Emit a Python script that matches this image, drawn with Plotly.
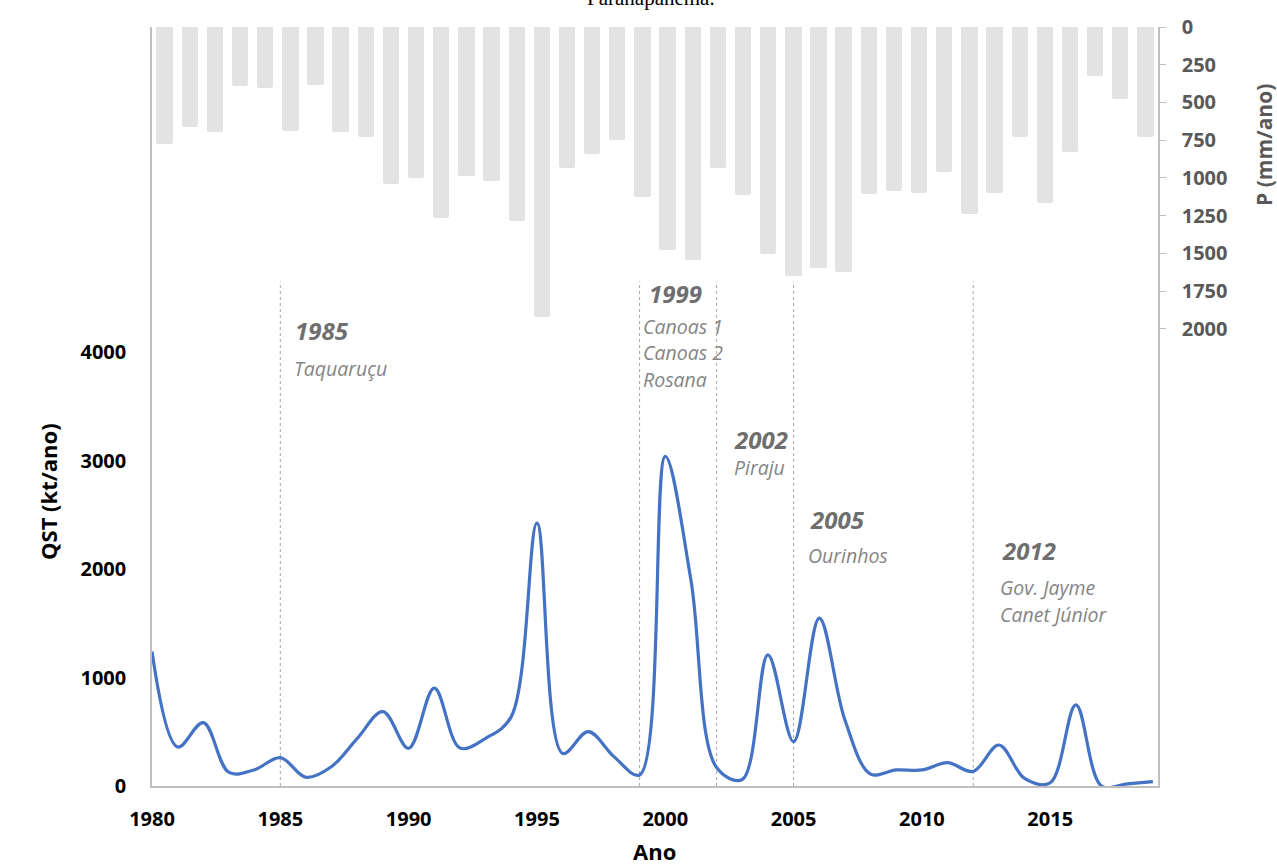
import plotly.graph_objects as go

# Annual series, 1980-2019
years = list(range(1980, 2020))

# Suspended sediment transport (kt/ano)
qst = [1240, 360, 585, 125, 150, 262, 80, 180, 440, 686,
       348, 902, 350, 440, 640, 2425, 300, 501, 271, 102,
       3040, 1900, 170, 60, 1210, 409, 1548, 609, 110, 148,
       148, 215, 135, 378, 70, 30, 748, 0, 20, 40]

# Annual precipitation (mm/ano)
precip = [775, 665, 698, 391, 404, 691, 382, 694, 727, 1038,
          1001, 1266, 985, 1023, 1286, 1922, 937, 844, 751, 1125,
          1478, 1544, 937, 1113, 1504, 1650, 1599, 1622, 1107, 1087,
          1098, 963, 1239, 1098, 731, 1164, 826, 325, 477, 731]

# Dam commissioning events
event_years = [1985, 1999, 2002, 2005, 2012]
event_names = [["Taquaruçu"], ["Canoas 1", "Canoas 2", "Rosana"], ["Piraju"],
               ["Ourinhos"], ["Gov. Jayme", "Canet Júnior"]]

x_ticks = [1980, 1985, 1990, 1995, 2000, 2005, 2010, 2015]
qst_ticks = [0, 1000, 2000, 3000, 4000]
p_ticks = [0, 250, 500, 750, 1000, 1250, 1500, 1750, 2000]

FONT = "Open Sans"
AXIS_GREY = "#bfbfbf"

# Frame geometry (pixels)
L, R, T, B = 152, 119, 27, 79
W, H = 1277, 865
pw, ph = W - L - R, H - T - B


def px(xp):
    return (xp - L) / pw


def py(yp):
    return (H - B - yp) / ph


fig = go.Figure()

fig.add_trace(go.Bar(
    x=years, y=precip, xaxis="x2", yaxis="y2",
    width=0.65, marker=dict(color="#e3e3e3", line=dict(width=0), cornerradius=3),
    showlegend=False,
))

fig.add_trace(go.Scatter(
    x=years, y=qst, mode="lines",
    line=dict(color="#4472C4", width=3.2, shape="spline", smoothing=1.0),
    showlegend=False,
))

# Vertical dashed markers for each event
for yr in event_years:
    fig.add_shape(type="line", xref="x", yref="paper", x0=yr, x1=yr, y0=0, y1=0.665,
                  line=dict(color="#a6a6a6", width=1, dash="3px,3px"), layer="below")

# Event label placement: year label centre (x, y) and names left edge / first line y
label_layout = {
    1985: dict(yx=1986.62, yy=4200, nx=1985.46, ny=3850),
    1999: dict(yx=2000.38, yy=4540, nx=1999.06, ny=4240),
    2002: dict(yx=2003.73, yy=3200, nx=2002.6, ny=2940),
    2005: dict(yx=2006.7, yy=2460, nx=2005.49, ny=2130),
    2012: dict(yx=2014.18, yy=2170, nx=2012.97, ny=1830),
}
for yr, names in zip(event_years, event_names):
    p = label_layout[yr]
    fig.add_annotation(x=p["yx"], y=p["yy"], xref="x", yref="y", text=f"<b><i>{yr}</i></b>",
                       showarrow=False, xanchor="center", yanchor="middle",
                       font=dict(family=FONT, size=24, color="#6e6e6e"))
    for k, name in enumerate(names):
        fig.add_annotation(x=p["nx"], y=p["ny"] - k * 245, xref="x", yref="y",
                           text=f"<i>{name}</i>", showarrow=False,
                           xanchor="left", yanchor="middle",
                           font=dict(family=FONT, size=19.5, color="#858585"))

# Axis titles and caption
common = dict(showarrow=False, xref="paper", yref="paper", xanchor="center", yanchor="middle")
fig.add_annotation(text="<b>QST (kt/ano)</b>", x=px(48), y=py(492), textangle=-90,
                   font=dict(family=FONT, size=22, color="black"), **common)
fig.add_annotation(text="<b>Ano</b>", x=px(654), y=py(851),
                   font=dict(family=FONT, size=22, color="black"), **common)
fig.add_annotation(text="<b>P (mm/ano)</b>", x=px(1264), y=py(145), textangle=-90,
                   font=dict(family=FONT, size=21, color="#595959"), **common)
fig.add_annotation(text="Paranapanema.", x=px(651), y=py(-2),
                   font=dict(family="Liberation Serif", size=21, color="black"), **common)

fig.update_layout(
    width=W, height=H,
    margin=dict(l=L, r=R, t=T, b=B, pad=0),
    paper_bgcolor="white", plot_bgcolor="white",
    bargap=0,
    xaxis=dict(range=[1980, 2019.2], tickvals=x_ticks, showgrid=False, zeroline=False,
               showline=True, linecolor=AXIS_GREY, linewidth=1.5, ticks="",
               ticklabelstandoff=14,
               tickfont=dict(family=FONT, size=20, color="black", weight="bold")),
    xaxis2=dict(range=[1979.5, 2019.5], overlaying="x", visible=False),
    yaxis=dict(range=[0, 7000], tickvals=qst_ticks, showgrid=False, zeroline=False,
               showline=True, linecolor=AXIS_GREY, linewidth=1.5, ticks="",
               ticklabelstandoff=20,
               tickfont=dict(family=FONT, size=20, color="black", weight="bold")),
    yaxis2=dict(range=[5030, 0], tickvals=p_ticks, overlaying="y", side="right",
                showgrid=False, zeroline=False, showline=True, linecolor=AXIS_GREY,
                linewidth=1.5, ticks="outside", ticklen=6, tickcolor=AXIS_GREY,
                ticklabelstandoff=12,
                tickfont=dict(family=FONT, size=20, color="#595959", weight="bold")),
)

fig.write_html("out.html")
